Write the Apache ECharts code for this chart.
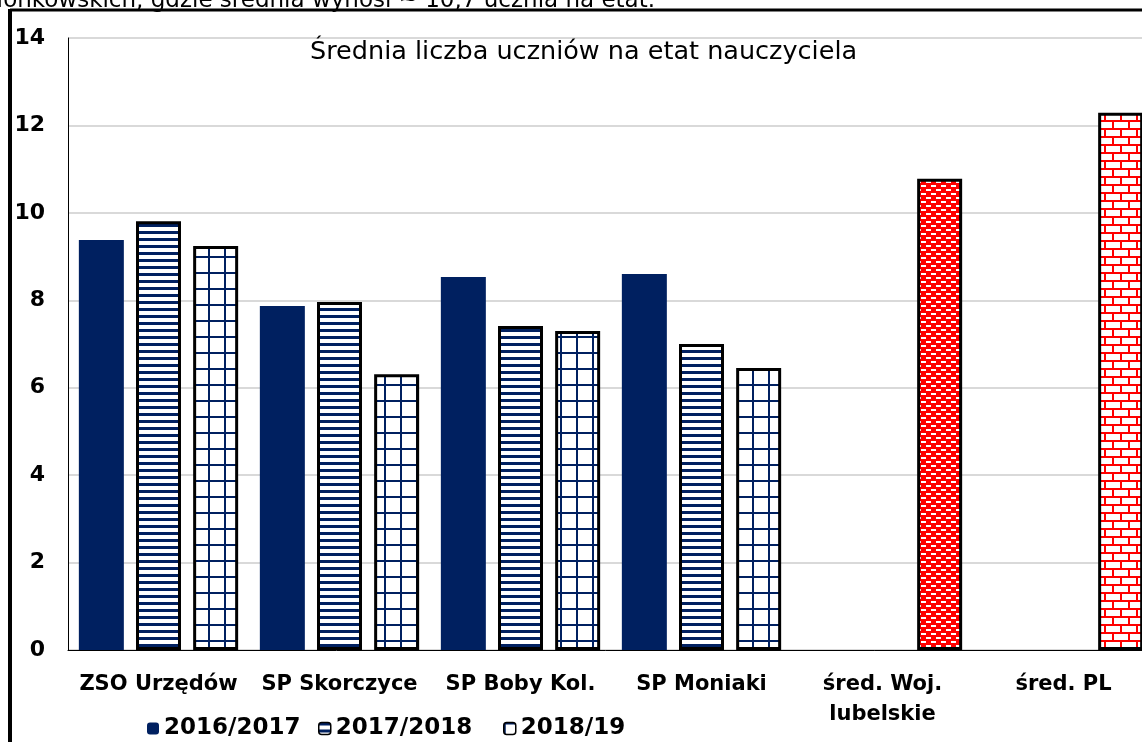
<!DOCTYPE html>
<html>
<head>
<meta charset="utf-8">
<script src="https://cdn.jsdelivr.net/npm/echarts@6/dist/echarts.min.js"></script>
<style>
  html, body { margin: 0; padding: 0; background: #fff; overflow: hidden; }
  #chart { width: 1142px; height: 742px; }
</style>
</head>
<body>
<div id="chart"></div>
<script>
  // dane
  const categories = ['ZSO Urzędów', 'SP Skorczyce', 'SP Boby Kol.', 'SP Moniaki', 'śred. Woj.\nlubelskie', 'śred. PL'];
  const seriesNames = ['2016/2017', '2017/2018', '2018/19'];
  const values2016 = [9.38, 7.87, 8.53, 8.60, null, null];
  const values2017 = [9.81, 7.96, 7.41, 7.00, null, null];
  const values2019 = [9.24, 6.31, 7.30, 6.45, 10.78, 12.29];
  const yTicks = [0, 2, 4, 6, 8, 10, 12, 14];

  const NAVY = '#002060';
  const RED = '#ff0000';
  const FONT = 'DejaVu Sans';

  function makePattern (w, h, draw) {
    const c = document.createElement('canvas');
    c.width = w;
    c.height = h;
    draw(c.getContext('2d'));
    return { image: c, repeat: 'repeat' };
  }

  const stripes = makePattern(8, 7, ctx => {
    ctx.fillStyle = '#fff';
    ctx.fillRect(0, 0, 8, 7);
    ctx.fillStyle = NAVY;
    ctx.fillRect(0, 0, 8, 3);
  });
  const gridPattern = makePattern(16, 16, ctx => {
    ctx.fillStyle = '#fff';
    ctx.fillRect(0, 0, 16, 16);
    ctx.fillStyle = NAVY;
    ctx.fillRect(0, 0, 2, 16);
    ctx.fillRect(0, 0, 16, 2);
  });
  const smallBrick = makePattern(10, 8, ctx => {
    ctx.fillStyle = RED;
    ctx.fillRect(0, 0, 10, 8);
    ctx.fillStyle = '#fff';
    ctx.fillRect(1, 1, 5, 2);
    ctx.fillRect(6, 5, 4, 2);
    ctx.fillRect(0, 5, 1, 2);
  });
  const largeBrick = makePattern(16, 16, ctx => {
    ctx.fillStyle = '#fff';
    ctx.fillRect(0, 0, 16, 16);
    ctx.fillStyle = RED;
    ctx.fillRect(0, 0, 16, 2);
    ctx.fillRect(0, 8, 16, 2);
    ctx.fillRect(0, 0, 2, 8);
    ctx.fillRect(8, 8, 2, 8);
  });
  const averagePatterns = { 4: smallBrick, 5: largeBrick };

  const data2019 = values2019.map((v, i) => {
    if (averagePatterns[i]) {
      return { value: v, itemStyle: { color: averagePatterns[i] } };
    }
    return v;
  });

  // każda pozycja legendy osobno, żeby trafić w odstępy z oryginału
  const legendLefts = [147, 318, 503];
  const legendBorders = [0, 1.5, 1.5];
  const legends = seriesNames.map((name, i) => ({
    left: legendLefts[i],
    top: 717,
    padding: 0,
    itemWidth: 12,
    itemHeight: 12,
    textStyle: { fontFamily: FONT, fontSize: 23, fontWeight: 'bold', color: '#000' },
    data: [{ name: name, itemStyle: { borderWidth: legendBorders[i] } }]
  }));

  const chart = echarts.init(document.getElementById('chart'));
  const option = {
    animation: false,
    backgroundColor: '#fff',
    title: {
      text: 'Średnia liczba uczniów na etat nauczyciela',
      left: 305,
      top: 34,
      textStyle: { fontFamily: FONT, fontSize: 25.5, fontWeight: 'normal', color: '#000' }
    },
    graphic: [
      {
        type: 'text',
        x: 655,
        y: 13,
        style: {
          text: 'ełonkowskich, gdzie średnia wynosi ~ 10,7 ucznia na etat.',
          font: '23px "' + FONT + '"',
          fill: '#000',
          align: 'right',
          verticalAlign: 'bottom'
        }
      },
      {
        type: 'line',
        shape: { x1: 10, y1: 10, x2: 1200, y2: 10 },
        style: { stroke: '#000', lineWidth: 3 },
        z: 100
      },
      {
        type: 'line',
        shape: { x1: 10, y1: 9, x2: 10, y2: 800 },
        style: { stroke: '#000', lineWidth: 4 },
        z: 100
      }
    ],
    legend: legends,
    grid: {
      left: 68,
      width: 1086,
      top: 38,
      bottom: 92,
      containLabel: false,
      outerBoundsMode: 'none'
    },
    xAxis: {
      type: 'category',
      data: categories,
      axisLine: { lineStyle: { color: '#000', width: 1 } },
      axisTick: { show: false },
      axisLabel: {
        interval: 0,
        margin: 20,
        lineHeight: 30,
        fontFamily: FONT,
        fontSize: 21,
        fontWeight: 'bold',
        color: '#000'
      }
    },
    yAxis: {
      type: 'value',
      min: yTicks[0],
      max: yTicks[yTicks.length - 1],
      interval: 2,
      axisLine: { show: true, lineStyle: { color: '#000', width: 1 } },
      axisTick: { show: false },
      splitLine: { lineStyle: { color: '#d9d9d9', width: 2 } },
      axisLabel: {
        margin: 23,
        fontFamily: FONT,
        fontSize: 22,
        fontWeight: 'bold',
        color: '#000'
      }
    },
    series: [
      {
        name: seriesNames[0],
        type: 'bar',
        barWidth: 45,
        barGap: '27%',
        data: values2016,
        itemStyle: { color: NAVY }
      },
      {
        name: seriesNames[1],
        type: 'bar',
        barWidth: 45,
        barGap: '27%',
        data: values2017,
        itemStyle: { color: stripes, borderColor: '#000', borderWidth: 3 }
      },
      {
        name: seriesNames[2],
        type: 'bar',
        barWidth: 45,
        barGap: '27%',
        data: data2019,
        itemStyle: { color: gridPattern, borderColor: '#000', borderWidth: 3 }
      }
    ]
  };
  chart.setOption(option);
</script>
</body>
</html>
